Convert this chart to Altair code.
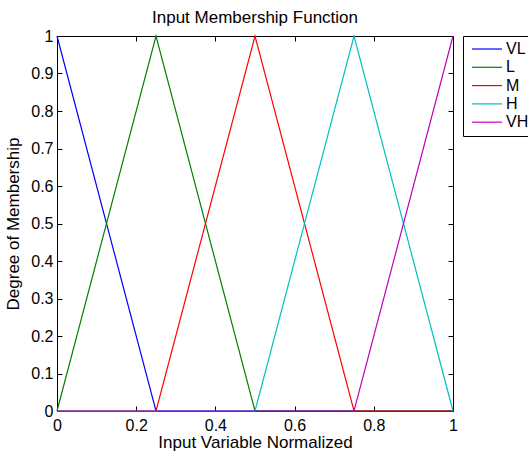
import altair as alt
import pandas as pd

series_names = ["VL", "L", "M", "H", "VH"]
series_colors = ["#0000ff", "#008000", "#ff0000", "#00bfbf", "#bf00bf"]

vl_x = [0.0, 0.25, 1.0]
vl_y = [1.0, 0.0, 0.0]
l_x = [0.0, 0.25, 0.5, 1.0]
l_y = [0.0, 1.0, 0.0, 0.0]
m_x = [0.0, 0.25, 0.5, 0.75, 1.0]
m_y = [0.0, 0.0, 1.0, 0.0, 0.0]
h_x = [0.0, 0.5, 0.75, 1.0]
h_y = [0.0, 0.0, 1.0, 0.0]
vh_x = [0.0, 0.75, 1.0]
vh_y = [0.0, 0.0, 1.0]

x_ticks = [0, 0.2, 0.4, 0.6, 0.8, 1]
y_ticks = [0, 0.1, 0.2, 0.3, 0.4, 0.5, 0.6, 0.7, 0.8, 0.9, 1]

rows = []
for name, xs, ys in zip(series_names,
                        [vl_x, l_x, m_x, h_x, vh_x],
                        [vl_y, l_y, m_y, h_y, vh_y]):
    for i, (xv, yv) in enumerate(zip(xs, ys)):
        rows.append({"series": name, "x": xv, "y": yv, "i": i})
df = pd.DataFrame(rows)

FONT = "Liberation Sans"
TICK = 5

color = alt.Color(
    "series:N",
    scale=alt.Scale(domain=series_names, range=series_colors),
    legend=alt.Legend(
        title=None,
        orient="none",
        legendX=406,
        legendY=0,
        symbolType="M-1,0L5,0",
        symbolSize=100,
        symbolStrokeWidth=1.2,
        labelFontSize=16,
        labelFont=FONT,
        labelColor="black",
        labelOffset=21,
        rowPadding=2.3,
        padding=5,
        symbolOffset=1,
        strokeColor="black",
        fillColor="white",
    ),
)

x_main = alt.X(
    "x:Q",
    scale=alt.Scale(domain=[0, 1], nice=False, zero=False),
    axis=alt.Axis(
        orient="bottom", offset=-TICK, tickSize=TICK, domain=False, grid=False,
        values=x_ticks, format="~g", labelFontSize=16, labelPadding=6,
        labelFlush=False, labelOverlap=False, labelColor="black", tickColor="black",
        title="Input Variable Normalized", titleFontSize=17, titleFontWeight="normal",
        titleColor="black", titlePadding=1,
    ),
)
y_main = alt.Y(
    "y:Q",
    scale=alt.Scale(domain=[0, 1], nice=False, zero=False),
    axis=alt.Axis(
        orient="left", offset=-TICK, tickSize=TICK, domain=False, grid=False,
        values=y_ticks, format="~g", labelFontSize=16, labelPadding=4,
        labelFlush=False, labelOverlap=False, labelColor="black", tickColor="black",
        title="Degree of Membership", titleFontSize=17, titleFontWeight="normal",
        titleColor="black", titlePadding=8,
    ),
)

base = alt.Chart(df).encode(x=x_main, y=y_main, color=color, order="i:Q")
line_layers = [
    base.transform_filter(alt.datum.series == s).mark_line(strokeWidth=1.2)
    for s in series_names
]
main = alt.layer(*line_layers)

x_top = alt.X(
    "x:Q",
    scale=alt.Scale(domain=[0, 1], nice=False, zero=False),
    axis=alt.Axis(orient="top", offset=-TICK, tickSize=TICK, domain=False, grid=False,
                  values=x_ticks, labels=False, tickColor="black", title=None),
)
y_right = alt.Y(
    "y:Q",
    scale=alt.Scale(domain=[0, 1], nice=False, zero=False),
    axis=alt.Axis(orient="right", offset=-TICK, tickSize=TICK, domain=False, grid=False,
                  values=y_ticks, labels=False, tickColor="black", title=None),
)
ghost = alt.Chart(df).mark_line(opacity=0).encode(
    x=x_top, y=y_right, detail="series:N", order="i:Q"
)

chart = (
    alt.layer(main, ghost)
    .resolve_axis(x="independent", y="independent")
    .properties(
        width=396,
        height=375,
        autosize="none",
        padding={"left": 57, "top": 36, "right": 75, "bottom": 43},
        title="Input Membership Function",
    )
    .configure(font=FONT)
    .configure_title(fontSize=17, fontWeight="normal", color="black", offset=1, font=FONT)
    .configure_view(stroke="black", strokeWidth=1)
    .configure_axis(labelFont=FONT, titleFont=FONT)
)

chart.save("out.html", embed_options={"renderer": "svg", "actions": False})
